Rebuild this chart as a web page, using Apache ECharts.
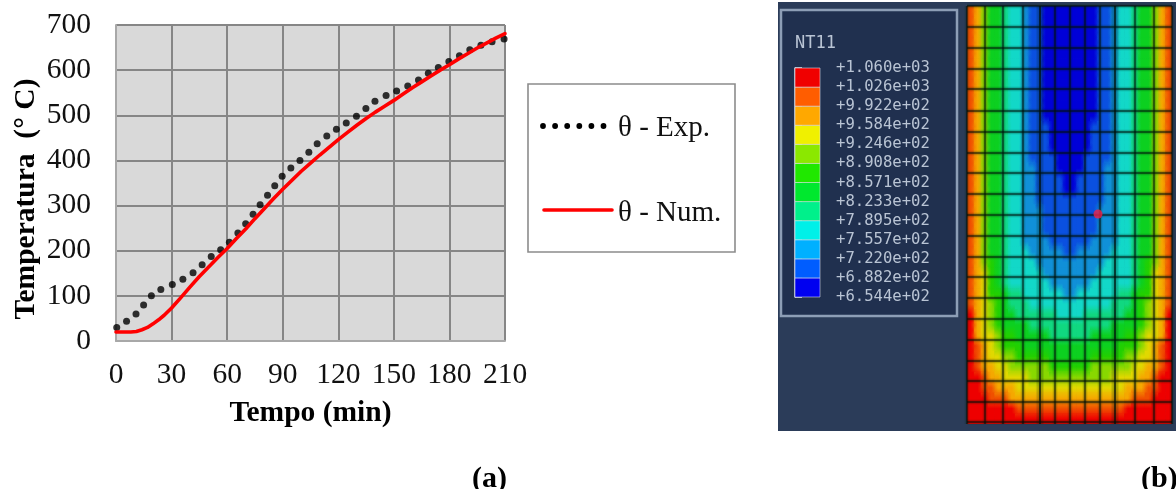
<!DOCTYPE html>
<html><head><meta charset="utf-8">
<style>html,body{margin:0;padding:0;background:#fff}#c{width:1176px;height:489px}</style>
<script src="https://cdn.jsdelivr.net/npm/echarts@6/dist/echarts.min.js"></script>
</head><body><div id="c"></div>
<script>
const xTicks=[0,30,60,90,120,150,180,210];
const expData=[[0.4,30],[5.7,43.5],[10.8,60],[14.9,80],[19.1,100],[24.2,114],[30.4,125],[36.1,137],[41.6,151],[46.5,169],[51.4,187],[56.5,202],[61.2,219],[65.8,239],[70,260],[74,281],[77.8,302],[81.8,323],[85.7,344],[89.7,365],[94.4,383],[99.3,400],[104.1,418],[108.6,437],[113.8,454],[119,469],[124.3,483],[129.8,498],[134.9,515],[139.8,531],[145.8,544],[151.5,554],[157.5,565],[163.3,578],[168.6,593],[174,606],[179.7,619],[185.4,632],[191,645],[197,655],[203,663],[209.5,669]];
const numData=[[0,20],[4,20],[8,20],[11,21],[14,25],[17,30],[20,38],[23,47],[26,57],[30,73],[35,96],[40,120],[45,143],[50,164],[55,185],[60,205],[65,227],[70,248],[75,271],[80,293],[85,315],[90,336],[95,356],[100,376],[105,394],[110,412],[115,429],[120,446],[125,462],[130,478],[135,493],[140,507],[145,520],[150,533],[155,547],[160,561],[165,574],[170,587],[175,600],[180,612],[185,625],[190,637],[195,649],[200,660],[205,671],[210,681]];
const contourLabels=['+6.544e+02','+6.882e+02','+7.220e+02','+7.557e+02','+7.895e+02','+8.233e+02','+8.571e+02','+8.908e+02','+9.246e+02','+9.584e+02','+9.922e+02','+1.026e+03','+1.060e+03'];
const barColors=['#0000f0','#005dff','#00b0ff','#00f0e8','#00f08b','#00e82e','#20e800','#8be800','#f0f000','#ffa800','#ff5d00','#f00000'];
const fieldColors=['#0000d8','#0a50e0','#1090d8','#12d8c8','#10d880','#0cd020','#22d000','#88d800','#e0d800','#f5a800','#f05000','#ee0000'];
// band index per half-column (left edge to centre), one row per half mesh row, top to bottom
const fieldHalf=[
[10,9,7,5,5,4,3,3,2,1,1,0,0,0,0],[10,9,7,5,5,4,3,3,2,1,1,0,0,0,0],[10,9,7,5,5,4,3,3,2,1,1,0,0,0,0],
[10,9,7,5,5,4,3,3,2,1,1,0,0,0,0],[10,9,7,5,5,4,3,3,2,1,1,0,0,0,0],[10,9,7,5,5,4,3,3,2,1,1,0,0,0,0],
[10,9,7,5,5,4,3,3,2,1,1,0,0,0,0],[10,9,7,5,5,4,3,3,2,1,1,0,0,0,0],[10,9,7,5,5,4,3,3,2,1,1,0,0,0,0],
[10,9,7,5,5,4,3,3,2,1,1,0,0,0,0],[10,9,7,5,5,4,3,3,2,1,1,0,0,0,0],[10,9,7,5,5,4,3,3,2,1,1,1,0,0,0],
[10,9,7,5,5,4,3,3,2,1,1,1,0,0,0],[10,9,7,5,5,4,3,3,2,1,1,1,0,0,0],[10,9,7,5,5,4,3,3,2,1,1,1,1,0,0],
[10,9,7,5,5,4,3,3,2,2,1,1,1,0,0],[10,9,7,5,5,4,3,3,2,2,1,1,1,1,0],[10,9,7,5,5,4,3,3,2,2,1,1,1,1,0],
[10,9,7,5,5,4,3,3,2,2,1,1,1,1,1],[10,9,7,5,5,4,3,3,2,2,2,1,1,1,1],[10,9,7,5,5,4,3,3,2,2,2,1,1,1,1],
[10,9,7,5,5,4,3,3,2,2,2,1,1,1,1],[10,9,7,5,5,4,3,3,2,2,2,2,1,1,1],[10,9,7,5,5,4,3,3,3,2,2,2,2,2,1],
[10,9,7,6,5,4,3,3,3,3,2,2,2,2,2],[10,9,8,6,5,4,3,3,3,3,3,2,2,2,2],[10,9,8,6,5,4,3,3,3,3,3,3,2,2,2],
[10,9,8,6,6,5,4,4,3,3,3,3,3,3,2],[10,9,8,7,6,5,4,4,4,3,3,3,3,3,3],[11,9,8,7,6,5,5,4,4,4,4,4,4,3,3],
[11,9,8,7,6,5,5,5,5,4,4,4,4,4,4],[11,9,8,8,7,6,6,5,5,5,5,5,4,4,4],[11,10,9,8,7,6,6,6,5,5,5,5,5,5,5],
[11,10,9,8,8,7,7,6,6,6,6,6,5,5,5],[11,10,9,9,8,8,7,7,7,7,7,7,6,6,6],[11,11,10,9,9,8,8,8,8,7,7,7,7,7,7],
[11,11,10,10,9,9,9,8,8,8,8,8,8,8,8],[11,11,11,10,10,10,9,9,9,9,9,9,9,9,9],[11,11,11,11,11,11,11,10,10,10,10,10,10,10,10],
[11,11,11,11,11,11,11,11,11,11,11,11,11,11,11]];
const meshX=[0,18,36,56,73,88,103,118,133,148,168,187,205];
const meshY=[0,21,42,63,83,105,126,147,167,188,209,230,251,271,292,313,334,355,375,396,416];
const markerPoint=[[131,208]];

const SERIF='"Liberation Serif","Times New Roman",serif';
const MONO='"DejaVu Sans Mono",monospace';
const GRID='#868686';
const FS=29.5;
const FW=205, FH=418, cols=30, rows=fieldHalf.length;
const fieldFull=fieldHalf.map(r=>r.concat(r.slice().reverse()));
const fieldCells=[];
fieldFull.forEach((r,i)=>r.forEach((b,j)=>fieldCells.push([j,i,b])));
const barCells=barColors.map((c,i)=>[i,i]);
const meshSegs=[...meshX.map(x=>[x,0,x,FH,(x===73||x===148)?1:0]),...meshY.map(y=>[0,y,FW,y,0])];
const rgb=h=>[1,3,5].map(k=>parseInt(h.substr(k,2),16));
const mixCss=(a,b,t,al)=>{const A=rgb(a),B=rgb(b);const c=A.map((v,k)=>Math.round(v+(B[k]-v)*t));return `rgba(${c[0]},${c[1]},${c[2]},${al===undefined?1:al})`;};
const colAt=(j,i)=>fieldColors[fieldFull[Math.max(0,Math.min(rows-1,i))][Math.max(0,Math.min(cols-1,j))]];

const chart=echarts.init(document.getElementById('c'),null,{renderer:'canvas'});
const dots=[0,1,2,3,4,5].map(i=>({type:'circle',z:3,shape:{cx:543+i*12.1,cy:126,r:2.9},style:{fill:'#000'}}));
chart.setOption({
 animation:false,
 backgroundColor:'#fff',
 grid:[
  {left:116,top:25,width:389,height:316,backgroundColor:'#d9d9d9',show:true,borderWidth:0},
  {left:795,top:68,width:25,height:229},
  {left:967,top:6,width:FW,height:FH}
 ],
 xAxis:[
  {type:'value',gridIndex:0,min:0,max:210,interval:30,
   axisLine:{show:true,lineStyle:{color:'#a8a8a8',width:2}},axisTick:{show:false},
   splitLine:{show:true,lineStyle:{color:GRID,width:2}},
   axisLabel:{color:'#111',fontFamily:SERIF,fontSize:FS,margin:19,hideOverlap:false,showMinLabel:true,showMaxLabel:true,
     formatter:(v)=>String(xTicks[xTicks.indexOf(v)])},
   name:'Tempo (min)',nameLocation:'middle',nameGap:57,
   nameTextStyle:{color:'#000',fontFamily:SERIF,fontSize:FS,fontWeight:'bold'}},
  {type:'value',gridIndex:1,min:0,max:1,show:false},
  {type:'value',gridIndex:2,min:0,max:FW,show:false}
 ],
 yAxis:[
  {type:'value',gridIndex:0,min:0,max:700,interval:100,
   axisLine:{show:true,lineStyle:{color:'#a8a8a8',width:2}},axisTick:{show:false},
   splitLine:{show:true,lineStyle:{color:GRID,width:2}},
   axisLabel:{color:'#111',fontFamily:SERIF,fontSize:FS,margin:25},
   name:'Temperatura  (° C)',nameLocation:'middle',nameGap:75,nameRotate:90,
   nameTextStyle:{color:'#000',fontFamily:SERIF,fontSize:FS,fontWeight:'bold',padding:[0,32,0,0]}},
  {type:'value',gridIndex:1,min:0,max:12,interval:1,position:'right',
   axisLine:{show:true,lineStyle:{color:'#c8d0dc',width:1.5}},
   axisTick:{show:true,length:7,lineStyle:{color:'#d8dee8',width:1.5}},
   splitLine:{show:false},
   axisLabel:{color:'#b9c4d4',fontFamily:MONO,fontSize:15.6,margin:16,formatter:(v)=>contourLabels[v]}},
  {type:'value',gridIndex:2,min:0,max:FH,inverse:true,show:false}
 ],
 series:[
  {type:'custom',name:'field',xAxisIndex:2,yAxisIndex:2,z:3,silent:true,clip:true,data:fieldCells,
   renderItem:(p,api)=>{
     const cw=FW/cols,ch=FH/rows,j=api.value(0),i=api.value(1);
     const a=api.coord([j*cw,i*ch]),b=api.coord([(j+1)*cw,(i+1)*ch]);
     const me=colAt(j,i),shape={x:a[0],y:a[1],width:b[0]-a[0]+0.6,height:b[1]-a[1]+0.6};
     return {type:'group',children:[
       {type:'rect',shape,style:{fill:new echarts.graphic.LinearGradient(0,0,1,0,[
          {offset:0,color:mixCss(me,colAt(j-1,i),0.5)},{offset:0.5,color:mixCss(me,me,0)},{offset:1,color:mixCss(me,colAt(j+1,i),0.5)}])}},
       {type:'rect',shape,style:{fill:new echarts.graphic.LinearGradient(0,0,0,1,[
          {offset:0,color:mixCss(me,colAt(j,i-1),1,0.5)},{offset:0.5,color:mixCss(me,colAt(j,i-1),1,0)},
          {offset:0.5,color:mixCss(me,colAt(j,i+1),1,0)},{offset:1,color:mixCss(me,colAt(j,i+1),1,0.5)}])}}
     ]};
   }},
  {type:'custom',name:'mesh',xAxisIndex:2,yAxisIndex:2,z:4,silent:true,clip:false,data:meshSegs,
   renderItem:(p,api)=>{
     const a=api.coord([api.value(0),api.value(1)]),b=api.coord([api.value(2),api.value(3)]);
     const wide=api.value(4)===1;
     const s={x1:a[0],y1:a[1],x2:b[0],y2:b[1]};
     return {type:'group',children:[
       {type:'line',shape:s,style:{stroke:'rgba(0,30,10,0.2)',lineWidth:wide?7:4.5}},
       {type:'line',shape:s,style:{stroke:'rgba(0,15,10,0.72)',lineWidth:wide?2.2:1.5}}
     ]};
   }},
  {type:'scatter',name:'marker',xAxisIndex:2,yAxisIndex:2,z:5,silent:true,data:markerPoint,symbol:'circle',symbolSize:9,
   itemStyle:{color:'#f0204a'}},
  {type:'custom',name:'bar',xAxisIndex:1,yAxisIndex:1,z:3,silent:true,data:barCells,
   renderItem:(p,api)=>{
     const i=api.value(0);
     const a=api.coord([0,i]),b=api.coord([1,i+1]);
     return {type:'rect',shape:{x:a[0],y:b[1],width:b[0]-a[0],height:a[1]-b[1]},
       style:{fill:barColors[i],stroke:'rgba(225,232,240,0.55)',lineWidth:1}};
   }},
  {type:'line',name:'θ - Num.',xAxisIndex:0,yAxisIndex:0,z:6,data:numData,smooth:false,showSymbol:false,symbol:'none',clip:false,
   lineStyle:{color:'#ff0000',width:3.6,join:'round',cap:'round'}},
  {type:'scatter',name:'θ - Exp.',xAxisIndex:0,yAxisIndex:0,z:5,data:expData,symbol:'circle',symbolSize:7,clip:false,
   itemStyle:{color:'#000'}}
 ],
 graphic:[
  {type:'rect',z:-2,shape:{x:778,y:2,width:398,height:429},style:{fill:'#2b3c59'}},
  {type:'rect',z:-1,shape:{x:781,y:10,width:176,height:306},style:{fill:'#20304f',stroke:'#8d9eb6',lineWidth:2.5}},
  {type:'text',z:2,x:795,y:35,style:{text:'NT11',fill:'#b9c4d4',font:'17px "DejaVu Sans Mono",monospace'}},
  {type:'rect',z:2,shape:{x:528,y:84,width:207,height:168},style:{fill:'#fff',stroke:'#8c8c8c',lineWidth:1.6}},
  {type:'group',z:3,children:dots},
  {type:'line',z:3,shape:{x1:544,y1:210,x2:612,y2:210},style:{stroke:'#ff0000',lineWidth:3.6,lineCap:'round'}},
  {type:'text',z:3,x:618,y:114,style:{text:'θ - Exp.',fill:'#111',font:'29px "Liberation Serif",serif'}},
  {type:'text',z:3,x:618,y:199,style:{text:'θ - Num.',fill:'#111',font:'29px "Liberation Serif",serif'}},
  {type:'text',z:3,x:472,y:464,style:{text:'(a)',fill:'#000',font:'bold 30px "Liberation Serif",serif'}},
  {type:'text',z:3,x:1141,y:464,style:{text:'(b)',fill:'#000',font:'bold 30px "Liberation Serif",serif'}}
 ]
});
</script></body></html>
